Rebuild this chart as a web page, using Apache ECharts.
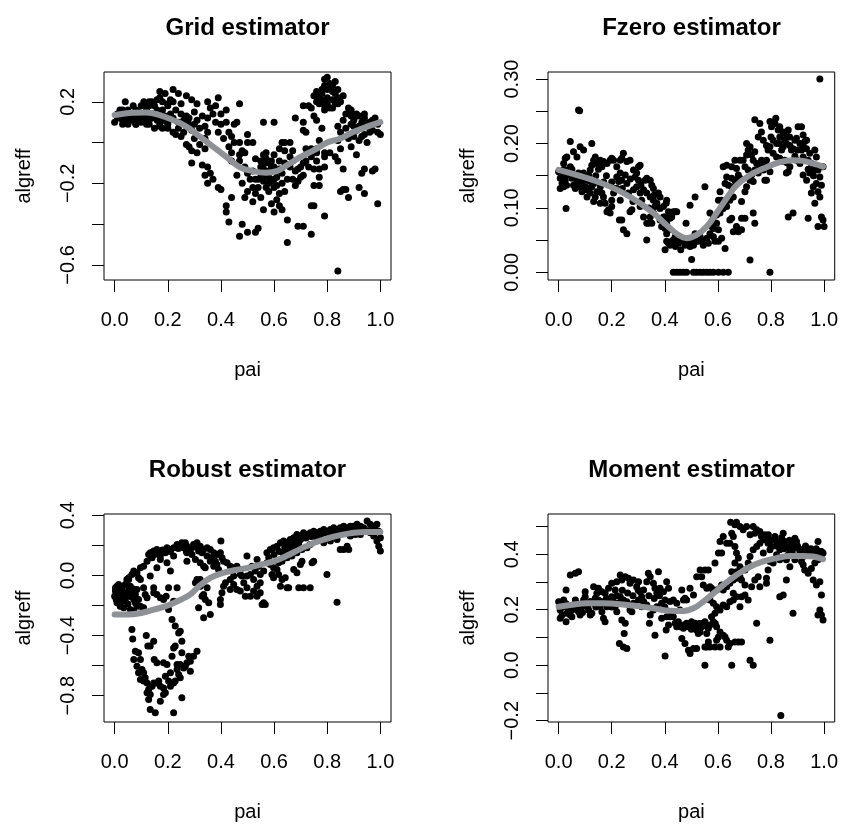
<!DOCTYPE html>
<html><head><meta charset="utf-8">
<script src="https://cdn.jsdelivr.net/npm/echarts@6/dist/echarts.min.js"></script>
<style>html,body{margin:0;padding:0;background:#fff}#c{width:841px;height:826px}</style>
</head><body><div id="c"></div>
<script>
const titles = ['Grid estimator','Fzero estimator','Robust estimator','Moment estimator'];
const xName = 'pai';
const yName = 'algreff';
const xTicks = [0,0.2,0.4,0.6,0.8,1.0];
const gridYTicks = [-0.6,-0.4,-0.2,0,0.2];
const gridYLabels = [-0.6,-0.2,0.2];
const fzeroYTicks = [0,0.05,0.1,0.15,0.2,0.25,0.3];
const fzeroYLabels = [0,0.1,0.2,0.3];
const robustYTicks = [-0.8,-0.6,-0.4,-0.2,0,0.2,0.4];
const robustYLabels = [-0.8,-0.4,0,0.4];
const momentYTicks = [-0.2,-0.1,0,0.1,0.2,0.3,0.4,0.5];
const momentYLabels = [-0.2,0,0.2,0.4];

const gridPts = [[0.01,0.14],[0.02,0.12],[0.00,0.10],[0.02,0.13],[0.03,0.11],[0.03,0.09],[0.04,0.12],[0.05,0.10],[0.06,0.13],[0.07,0.11],[0.07,0.14],[0.08,0.13],[0.08,0.09],[0.10,0.12],[0.10,0.10],[0.11,0.13],[0.12,0.10],[0.12,0.13],[0.13,0.11],[0.13,0.09],[0.14,0.12],[0.15,0.13],[0.16,0.11],[0.17,0.08],[0.17,0.09],[0.18,0.11],[0.19,0.13],[0.20,0.09],[0.20,0.10],[0.16,0.16],[0.15,0.18],[0.13,0.18],[0.12,0.16],[0.11,0.18],[0.10,0.18],[0.08,0.16],[0.07,0.18],[0.04,0.20],[0.05,0.16],[0.03,0.16],[0.02,0.16],[0.18,0.16],[0.20,0.19],[0.21,0.21],[0.18,0.20],[0.17,0.22],[0.20,0.07],[0.18,0.07],[0.15,0.07],[0.12,0.09],[0.08,0.09],[0.05,0.09],
[0.01,0.12],[0.03,0.14],[0.05,0.13],[0.06,0.11],[0.09,0.12],[0.11,0.11],[0.14,0.14],[0.16,0.14],[0.19,0.11],[0.09,0.15],
[0.17,0.25],[0.19,0.24],[0.22,0.26],[0.24,0.24],[0.27,0.23],[0.16,0.21],[0.13,0.20],[0.14,0.20],[0.11,0.20],[0.22,0.20],[0.25,0.19],[0.20,0.18],[0.21,0.14],[0.23,0.16],[0.25,0.14],[0.27,0.13],[0.22,0.05],[0.23,0.04],[0.25,0.03],[0.27,0.08],[0.28,0.09],[0.29,0.06],[0.30,0.09],[0.28,-0.02],[0.29,-0.04],[0.31,-0.05],[0.29,-0.10],[0.27,-0.01],[0.33,-0.11],[0.34,-0.16],[0.35,-0.12],[0.36,-0.15],[0.34,0.02],[0.35,0.05],[0.34,0.08],[0.35,0.12],[0.35,0.20],[0.36,0.17],[0.37,0.14],[0.34,-0.03],[0.35,-0.20],[0.37,-0.18],[0.39,-0.22],[0.40,-0.23],[0.39,0.22],[0.40,0.14],[0.40,0.09],[0.42,0.16],[0.42,0.10],[0.43,0.05],[0.44,0.03],[0.43,-0.02],[0.44,-0.09],[0.44,-0.05],[0.44,-0.27],[0.42,-0.31],[0.42,-0.34],[0.43,-0.39],[0.45,0.09],[0.46,0.10],[0.45,0.00],[0.47,0.00],[0.47,0.19],[0.48,-0.04],[0.47,-0.06],[0.49,-0.05],[0.50,0.04],[0.50,0.00],[0.52,0.00],[0.47,-0.09],[0.49,-0.12],[0.50,-0.15],[0.46,-0.16],[0.48,-0.20],[0.49,-0.27],[0.51,-0.18],[0.52,-0.22],[0.52,-0.14],[0.48,-0.40],[0.50,-0.44],[0.47,-0.46],[0.53,-0.44],[0.54,-0.42],[0.52,-0.29],[0.53,-0.25],[0.50,-0.24],
[0.22,0.12],[0.24,0.10],[0.26,0.11],[0.28,0.12],[0.30,0.15],[0.31,0.11],[0.32,0.07],[0.33,0.13],[0.24,0.07],[0.26,0.05],[0.30,0.02],[0.32,-0.01],[0.38,0.10],[0.39,0.05],[0.41,0.02],[0.38,0.18],[0.31,0.19],[0.29,0.21],
[0.56,0.10],[0.60,0.10],[0.55,-0.09],[0.57,-0.10],[0.57,-0.08],[0.56,-0.13],[0.58,-0.14],[0.59,-0.09],[0.60,-0.12],[0.55,-0.17],[0.54,-0.18],[0.56,-0.19],[0.59,-0.19],[0.60,-0.18],[0.61,-0.17],[0.54,-0.22],[0.55,-0.27],[0.57,-0.22],[0.60,-0.22],[0.59,-0.30],[0.56,-0.33],[0.60,-0.34],[0.62,-0.31],[0.63,-0.33],[0.61,-0.28],[0.64,-0.24],[0.65,-0.18],[0.63,-0.15],[0.62,-0.13],[0.62,-0.09],[0.64,-0.10],[0.63,0.00],[0.64,0.00],[0.66,0.00],[0.67,-0.04],[0.62,-0.03],[0.64,-0.04],[0.66,-0.07],[0.67,-0.09],[0.65,-0.38],[0.65,-0.49],
[0.53,-0.08],[0.55,-0.12],[0.58,-0.17],[0.57,-0.05],[0.61,-0.21],[0.58,-0.24],[0.53,-0.18],[0.68,-0.14],[0.70,-0.17],[0.73,-0.12],[0.66,-0.12],[0.60,-0.06],[0.62,-0.25],[0.56,-0.06],[0.58,-0.20],[0.61,-0.14],[0.63,-0.20],[0.57,-0.16],[0.59,-0.12],
[0.68,0.12],[0.71,0.10],[0.71,0.18],[0.73,0.18],[0.74,0.17],[0.72,0.05],[0.71,0.06],[0.72,-0.03],[0.69,-0.13],[0.70,-0.12],[0.71,-0.16],[0.67,-0.18],[0.68,-0.21],[0.69,-0.19],[0.71,-0.10],[0.72,-0.09],[0.74,-0.07],[0.76,-0.09],[0.74,-0.03],[0.76,-0.05],[0.76,-0.03],[0.77,0.01],[0.75,-0.13],[0.77,-0.13],[0.77,-0.17],[0.79,-0.12],[0.79,-0.07],[0.79,-0.05],[0.69,-0.41],[0.71,-0.41],[0.74,-0.45],[0.74,-0.31],[0.75,-0.31],[0.75,-0.21],[0.77,-0.21],[0.79,-0.36],
[0.75,0.23],[0.76,0.25],[0.77,0.24],[0.77,0.22],[0.78,0.21],[0.79,0.28],[0.81,0.29],[0.81,0.27],[0.82,0.28],[0.82,0.25],[0.79,0.31],[0.80,0.32],[0.83,0.24],[0.84,0.26],[0.84,0.19],[0.86,0.23],[0.77,0.19],[0.81,0.17],[0.82,0.17],[0.79,0.16],[0.79,0.18],[0.78,0.07],[0.76,0.11],[0.75,0.13],[0.84,0.08],[0.85,0.05],[0.84,0.01],[0.85,-0.03],[0.84,-0.09],[0.86,-0.13],[0.86,-0.23],[0.87,-0.23],[0.88,-0.27],[0.85,-0.24],[0.84,-0.63],[0.81,-0.05],[0.83,-0.07],[0.83,0.19],[0.80,0.22],[0.78,0.26],[0.83,0.30],[0.78,0.24],[0.80,0.26],[0.82,0.21],[0.85,0.20],[0.80,0.19],[0.76,0.20],[0.84,0.22],
[0.88,0.17],[0.89,0.16],[0.91,0.14],[0.89,0.13],[0.90,0.11],[0.91,0.13],[0.92,0.13],[0.94,0.12],[0.94,0.14],[0.95,0.09],[0.96,0.10],[0.97,0.11],[0.99,0.09],[0.99,0.05],[1.00,0.04],[0.97,0.06],[0.96,0.05],[0.92,0.08],[0.91,0.06],[0.89,0.09],[0.90,0.03],[0.92,0.01],[0.93,0.03],[0.95,0.00],[0.89,-0.02],[0.91,-0.06],[0.93,-0.15],[0.94,-0.13],[0.97,-0.14],[0.98,-0.13],[0.99,-0.30],[0.92,-0.22],[0.94,-0.25],[0.88,0.02],
[0.86,0.11],[0.87,0.14],[0.90,0.08],[0.93,0.10],[0.96,0.07],[0.98,0.12],[0.87,0.07],[0.94,0.04]];

const fzeroPts = [[0.000,0.156],[0.006,0.146],[0.013,0.138],[0.019,0.133],[0.006,0.130],[0.025,0.143],[0.031,0.151],[0.038,0.159],[0.019,0.169],[0.025,0.177],[0.031,0.179],[0.044,0.164],[0.050,0.146],[0.056,0.135],[0.063,0.130],[0.069,0.141],[0.075,0.154],[0.044,0.203],[0.075,0.252],[0.079,0.251],[0.056,0.187],[0.069,0.179],[0.081,0.195],[0.094,0.190],[0.125,0.200],[0.028,0.099],[0.088,0.125],[0.100,0.133],[0.107,0.143],[0.113,0.151],[0.119,0.159],[0.125,0.166],[0.132,0.174],[0.138,0.179],[0.144,0.169],[0.157,0.174],[0.163,0.164],[0.169,0.172],[0.182,0.169],[0.194,0.174],[0.200,0.177],[0.207,0.174],[0.219,0.164],[0.232,0.174],[0.244,0.185],[0.238,0.177],[0.257,0.172],[0.269,0.174],[0.282,0.159],[0.301,0.164],[0.307,0.166],
[0.01,0.150],[0.02,0.160],[0.03,0.135],[0.05,0.16],[0.06,0.15],[0.09,0.14],[0.10,0.15],[0.11,0.13],[0.14,0.15],[0.15,0.16],[0.17,0.14],[0.18,0.15],[0.20,0.14],[0.22,0.13],[0.24,0.13],[0.27,0.145],[0.28,0.11],[0.31,0.135],[0.34,0.10],[0.36,0.12],
[0.088,0.146],[0.094,0.154],[0.107,0.128],[0.119,0.123],[0.125,0.133],[0.132,0.138],[0.138,0.117],[0.144,0.125],[0.157,0.133],[0.163,0.123],[0.169,0.117],[0.175,0.107],[0.182,0.094],[0.188,0.097],[0.200,0.112],[0.207,0.123],[0.213,0.130],[0.219,0.148],[0.226,0.141],[0.232,0.154],[0.238,0.143],[0.251,0.151],[0.257,0.138],[0.263,0.123],[0.232,0.112],[0.238,0.081],[0.244,0.066],[0.257,0.060],[0.269,0.094],[0.276,0.097],[0.229,0.081],[0.200,0.102],[0.194,0.092],[0.132,0.110],[0.157,0.107],[0.119,0.141],[0.107,0.117],[0.081,0.133],
[0.282,0.128],[0.294,0.133],[0.301,0.143],[0.307,0.123],[0.313,0.112],[0.320,0.128],[0.326,0.143],[0.332,0.146],[0.345,0.143],[0.351,0.135],[0.357,0.130],[0.332,0.123],[0.345,0.117],[0.357,0.112],[0.363,0.102],[0.370,0.107],[0.376,0.123],[0.382,0.117],[0.294,0.154],[0.288,0.148],[0.307,0.102],[0.320,0.086],[0.332,0.076],[0.338,0.076],[0.345,0.086],[0.357,0.092],[0.351,0.076],[0.332,0.050],[0.382,0.099],[0.395,0.102],[0.401,0.086],[0.405,0.107],[0.407,0.112],
[0.382,0.081],[0.388,0.071],[0.395,0.086],[0.401,0.068],[0.407,0.076],[0.414,0.094],[0.420,0.084],[0.426,0.086],[0.432,0.094],[0.439,0.094],[0.445,0.094],[0.407,0.060],[0.414,0.066],[0.401,0.035],[0.407,0.048],[0.414,0.045],[0.420,0.042],[0.426,0.048],[0.432,0.050],[0.439,0.055],[0.445,0.048],[0.451,0.045],[0.457,0.050],[0.464,0.048],[0.470,0.050],[0.476,0.042],[0.482,0.045],[0.489,0.048],[0.495,0.040],[0.501,0.048],[0.508,0.042],[0.514,0.060],[0.520,0.053],[0.480,0.076],[0.495,0.104],[0.514,0.117],[0.551,0.133],[0.44,0.04],[0.46,0.035],[0.49,0.05],[0.51,0.045],
[0.432,0],[0.445,0],[0.457,0],[0.470,0],[0.482,0],[0.508,0],[0.520,0],[0.533,0],[0.545,0],[0.558,0],[0.570,0],[0.583,0],[0.602,0],[0.620,0],[0.639,0],[0.796,0],[0.501,0.020],
[0.526,0.048],[0.533,0.055],[0.539,0.050],[0.545,0.042],[0.558,0.053],[0.564,0.045],[0.570,0.060],[0.576,0.071],[0.583,0.055],[0.589,0.048],[0.570,0.092],[0.583,0.086],[0.595,0.089],[0.608,0.092],[0.583,0.068],[0.602,0.066],[0.614,0.053],[0.627,0.037],[0.602,0.048],[0.595,0.076],
[0.602,0.112],[0.608,0.125],[0.614,0.112],[0.620,0.099],[0.627,0.107],[0.633,0.102],[0.639,0.115],[0.645,0.112],[0.658,0.117],[0.627,0.138],[0.633,0.148],[0.639,0.135],[0.652,0.133],[0.652,0.146],[0.664,0.143],[0.670,0.138],[0.677,0.151],[0.683,0.146],[0.620,0.164],[0.633,0.166],[0.652,0.164],[0.670,0.161],[0.683,0.174],[0.664,0.174],[0.645,0.081],[0.652,0.084],[0.658,0.063],[0.670,0.071],[0.677,0.063],[0.689,0.066],[0.689,0.084],[0.702,0.084],[0.689,0.110],[0.702,0.125],[0.708,0.133],[0.721,0.143],[0.733,0.141],[0.727,0.151],[0.739,0.159],[0.714,0.159],[0.702,0.164],[0.695,0.174],[0.708,0.182],[0.714,0.190],[0.708,0.200],[0.721,0.195],[0.727,0.182],[0.733,0.174],[0.746,0.169],[0.739,0.187],[0.758,0.164],[0.764,0.174],[0.771,0.159],[0.777,0.169],[0.783,0.174],[0.789,0.164],[0.796,0.156],[0.777,0.143],[0.752,0.154],[0.733,0.092],[0.739,0.076],[0.721,0.019],[0.783,0.143],
[0.739,0.237],[0.758,0.231],[0.752,0.210],[0.764,0.218],[0.771,0.205],[0.783,0.197],[0.789,0.190],[0.796,0.234],[0.802,0.226],[0.815,0.231],[0.818,0.239],[0.827,0.221],[0.833,0.210],[0.821,0.200],[0.808,0.205],[0.796,0.195],[0.808,0.185],[0.821,0.179],[0.833,0.177],[0.840,0.190],[0.846,0.195],[0.858,0.200],[0.852,0.205],[0.858,0.213],[0.865,0.221],[0.833,0.226],[0.846,0.218],[0.871,0.197],[0.877,0.190],[0.883,0.192],[0.890,0.205],[0.896,0.208],[0.902,0.226],[0.915,0.226],[0.921,0.213],[0.909,0.200],[0.921,0.195],[0.934,0.192],[0.946,0.185],[0.934,0.205],[0.927,0.203],[0.915,0.190],[0.896,0.174],[0.909,0.169],[0.921,0.179],[0.940,0.174],[0.952,0.169],[0.959,0.159],[0.946,0.154],[0.934,0.143],[0.921,0.151],[0.965,0.190],[0.971,0.179],[0.977,0.159],[0.984,0.148],[0.971,0.138],[0.959,0.133],[0.977,0.125],[0.984,0.117],[0.965,0.107],[0.952,0.123],[0.990,0.135],[0.996,0.164],[0.871,0.164],[0.865,0.156],[0.858,0.154],[0.840,0.172],[0.852,0.174],[0.865,0.086],[0.883,0.092],[0.940,0.084],[0.977,0.071],[0.990,0.086],[0.996,0.081],[1.000,0.071],[0.984,0.300],[0.86,0.17],[0.89,0.18],[0.94,0.16],[0.96,0.15],[0.80,0.21],[0.83,0.20],[0.87,0.21],[0.90,0.19]];

const robustPts = [[0.000,-0.138],[0.003,-0.104],[0.009,-0.071],[0.015,-0.093],[0.006,-0.160],[0.021,-0.126],[0.028,-0.149],[0.009,-0.182],[0.021,-0.204],[0.034,-0.215],[0.040,-0.160],[0.046,-0.126],[0.053,-0.093],[0.040,-0.060],[0.053,-0.027],[0.059,-0.071],[0.065,-0.104],[0.072,-0.160],[0.078,-0.182],[0.084,-0.204],[0.059,-0.226],[0.072,-0.237],[0.003,-0.082],[0.015,-0.060],[0.028,-0.082],[0.034,-0.115],[0.078,-0.126],[0.084,-0.093],[0.090,-0.160],[0.097,-0.204],[0.01,-0.12],[0.02,-0.10],[0.03,-0.17],[0.05,-0.19],[0.06,-0.14],[0.07,-0.09],
[0.046,-0.027],[0.053,-0.016],[0.065,0.007],[0.072,0.029],[0.084,0.018],[0.090,-0.016],[0.097,0.051],[0.109,0.062],[0.122,0.095],[0.128,0.140],[0.134,0.151],[0.141,0.118],[0.147,0.162],[0.159,0.173],[0.166,0.151],[0.172,0.129],[0.184,0.162],[0.191,0.151],[0.197,0.184],[0.210,0.173],[0.222,0.184],[0.235,0.206],[0.247,0.195],[0.253,0.217],[0.260,0.184],[0.266,0.217],[0.272,0.195],[0.285,0.173],[0.291,0.140],[0.297,0.206],[0.310,0.217],[0.322,0.195],[0.335,0.173],[0.348,0.184],[0.360,0.173],[0.373,0.151],[0.385,0.140],[0.398,0.151],[0.404,0.118],[0.410,0.095],[0.423,0.084],[0.435,0.062],[0.448,0.051],[0.460,0.062],[0.473,0.040],[0.479,-0.004],[0.329,0.151],[0.348,0.129],[0.360,0.095],[0.373,0.062],[0.385,0.073],[0.391,0.040],[0.335,0.062],[0.366,0.118],[0.379,0.095],[0.272,0.095],[0.304,0.107],[0.322,0.084],[0.341,0.051],[0.272,0.151],[0.222,0.129],[0.197,0.084],[0.210,0.029],[0.159,0.051],[0.134,-0.004],[0.147,-0.082],[0.109,-0.082],[0.115,-0.126],[0.122,-0.149],[0.147,-0.115],[0.159,-0.126],[0.172,-0.149],[0.184,-0.160],[0.109,-0.215],[0.097,-0.027],[0.316,0.162],[0.400,0.229],[0.172,0.107],[0.15,0.14],[0.18,0.17],[0.21,0.16],[0.24,0.18],[0.27,0.16],[0.30,0.19],[0.33,0.17],
[0.322,-0.027],[0.310,-0.027],[0.304,-0.049],[0.322,-0.071],[0.348,-0.082],[0.335,-0.126],[0.329,-0.138],[0.341,-0.160],[0.354,-0.182],[0.316,-0.215],[0.335,-0.282],[0.360,-0.260],[0.398,-0.160],[0.404,-0.115],[0.398,-0.193],[0.410,-0.071],[0.417,-0.049],[0.435,-0.093],[0.448,-0.060],[0.460,-0.093],[0.473,-0.104],[0.486,-0.049],[0.498,-0.004],[0.511,0.007],[0.523,-0.027],[0.536,-0.071],[0.548,-0.049],[0.498,0.129],[0.517,0.062],[0.529,0.029],[0.548,0.007],[0.561,0.029],[0.448,-0.004],[0.435,-0.027],[0.473,0.007],[0.498,-0.082],[0.492,-0.138],[0.511,-0.138],[0.523,-0.104],[0.536,-0.138],[0.561,-0.182],[0.567,-0.193],[0.555,-0.193],[0.548,-0.115],[0.536,0.107],[0.542,0.062],[0.573,0.084],[0.586,0.073],[0.598,0.051],[0.611,0.040],[0.573,0.151],[0.586,0.173],[0.598,0.184],[0.611,0.195],[0.624,0.217],[0.636,0.229],[0.642,0.173],[0.649,0.217],[0.661,0.240],[0.674,0.251],[0.686,0.273],[0.699,0.262],[0.711,0.284],[0.724,0.273],[0.736,0.284],[0.749,0.295],[0.762,0.284],[0.774,0.295],[0.787,0.306],[0.799,0.295],[0.812,0.306],[0.824,0.317],[0.837,0.306],[0.849,0.317],[0.862,0.328],[0.875,0.317],[0.887,0.328],[0.900,0.328],[0.912,0.340],[0.925,0.328],[0.937,0.317],[0.950,0.362],[0.962,0.340],[0.975,0.328],[0.987,0.340],[0.994,0.295],[1.000,0.251],[0.987,0.229],[0.994,0.195],[1.000,0.162],[0.975,0.262],[0.962,0.284],[0.950,0.295],[0.925,0.273],[0.906,0.273],[0.887,0.262],[0.875,0.195],[0.862,0.173],[0.849,0.173],[0.881,0.173],[0.837,0.240],[0.812,0.229],[0.787,0.217],[0.762,0.240],[0.736,0.206],[0.724,0.184],[0.705,0.173],[0.686,0.151],[0.667,0.129],[0.649,0.118],[0.630,0.095],[0.617,0.084],[0.674,0.195],[0.661,0.173],[0.693,0.206],[0.636,0.140],[0.592,0.007],[0.598,-0.016],[0.617,0.007],[0.630,-0.027],[0.642,-0.016],[0.624,-0.071],[0.649,-0.082],[0.674,0.040],[0.686,0.018],[0.699,0.073],[0.705,0.095],[0.743,0.084],[0.749,0.095],[0.736,-0.082],[0.711,-0.082],[0.693,-0.082],[0.655,-0.082],[0.799,0.007],[0.837,-0.178],[0.774,0.251],[0.812,0.262],
[0.58,0.12],[0.60,0.14],[0.62,0.16],[0.64,0.19],[0.66,0.21],[0.68,0.23],[0.70,0.24],[0.72,0.25],[0.74,0.26],[0.76,0.27],[0.78,0.28],[0.80,0.28],[0.82,0.29],[0.84,0.29],[0.86,0.30],[0.88,0.30],[0.90,0.31],[0.92,0.30],[0.94,0.31],[0.96,0.30],[0.98,0.31],
[0.065,-0.360],[0.068,-0.422],[0.078,-0.504],[0.090,-0.515],[0.097,-0.559],[0.103,-0.626],[0.109,-0.648],[0.115,-0.681],[0.122,-0.715],[0.134,-0.737],[0.122,-0.781],[0.128,-0.759],[0.134,-0.792],[0.128,-0.825],[0.141,-0.737],[0.147,-0.715],[0.159,-0.715],[0.166,-0.703],[0.172,-0.737],[0.184,-0.748],[0.191,-0.781],[0.134,-0.892],[0.153,-0.914],[0.172,-0.837],[0.184,-0.792],[0.222,-0.914],[0.072,-0.559],[0.084,-0.604],[0.090,-0.648],[0.097,-0.692],[0.109,-0.703],[0.119,-0.400],[0.125,-0.470],[0.134,-0.470],[0.147,-0.437],[0.149,-0.559],[0.159,-0.581],[0.184,-0.581],[0.197,-0.592],[0.210,-0.648],[0.216,-0.537],[0.222,-0.482],[0.228,-0.470],[0.241,-0.382],[0.247,-0.371],[0.253,-0.437],[0.253,-0.515],[0.235,-0.592],[0.247,-0.592],[0.260,-0.615],[0.266,-0.604],[0.279,-0.537],[0.285,-0.570],[0.297,-0.537],[0.310,-0.504],[0.285,-0.637],[0.272,-0.581],[0.235,-0.626],[0.241,-0.659],[0.247,-0.681],[0.222,-0.715],[0.228,-0.703],[0.210,-0.737],[0.203,-0.703],[0.191,-0.670],[0.253,-0.814],[0.216,-0.293],[0.228,-0.337],[0.203,-0.226],[0.194,-0.138],[0.222,-0.171],[0.235,-0.082],[0.203,-0.082]];

const momentPts = [[0.000,0.229],[0.006,0.199],[0.006,0.169],[0.013,0.181],[0.019,0.211],[0.019,0.235],[0.025,0.223],[0.028,0.157],[0.031,0.187],[0.038,0.199],[0.044,0.181],[0.050,0.175],[0.056,0.211],[0.063,0.235],[0.069,0.223],[0.075,0.193],[0.081,0.181],[0.088,0.211],[0.094,0.235],[0.100,0.247],[0.107,0.223],[0.113,0.199],[0.119,0.181],[0.125,0.187],[0.132,0.223],[0.138,0.241],[0.144,0.259],[0.150,0.235],[0.157,0.211],[0.163,0.193],[0.169,0.169],[0.175,0.157],[0.182,0.211],[0.188,0.223],[0.194,0.235],[0.200,0.247],[0.207,0.229],[0.213,0.211],[0.219,0.193],[0.226,0.223],[0.232,0.247],[0.044,0.325],[0.063,0.331],[0.075,0.337],[0.028,0.271],[0.100,0.265],[0.132,0.283],[0.150,0.277],[0.163,0.265],[0.175,0.259],[0.188,0.277],[0.200,0.295],[0.213,0.271],[0.219,0.301],[0.232,0.325],[0.238,0.307],[0.251,0.319],[0.263,0.313],[0.269,0.295],[0.282,0.307],[0.294,0.283],[0.301,0.301],[0.307,0.265],[0.313,0.247],[0.320,0.271],[0.332,0.301],[0.338,0.331],[0.345,0.319],[0.357,0.295],[0.363,0.277],[0.376,0.337],[0.370,0.259],[0.382,0.277],[0.395,0.265],[0.407,0.301],[0.414,0.277],[0.401,0.235],[0.388,0.223],[0.370,0.211],[0.357,0.199],[0.345,0.181],[0.332,0.217],[0.313,0.211],[0.301,0.235],[0.282,0.223],[0.269,0.199],[0.257,0.229],[0.244,0.235],[0.238,0.163],[0.251,0.151],[0.247,0.114],[0.229,0.078],[0.244,0.066],[0.257,0.060],[0.276,0.193],[0.342,0.151],[0.363,0.108],[0.401,0.033],[0.405,0.127],[0.414,0.145],[0.420,0.175],[0.426,0.187],[0.432,0.175],[0.407,0.175],[0.388,0.169],[0.432,0.235],[0.445,0.223],[0.457,0.199],[0.470,0.235],[0.464,0.271],[0.476,0.241],[0.482,0.235],
[0.01,0.21],[0.03,0.22],[0.05,0.20],[0.07,0.20],[0.09,0.19],[0.11,0.21],[0.12,0.23],[0.14,0.21],[0.16,0.23],[0.18,0.24],[0.20,0.21],[0.22,0.25],[0.24,0.27],[0.26,0.26],[0.28,0.25],[0.30,0.27],[0.32,0.23],[0.34,0.25],[0.36,0.24],[0.38,0.25],[0.40,0.21],[0.42,0.23],
[0.439,0.151],[0.445,0.139],[0.451,0.157],[0.457,0.139],[0.470,0.133],[0.482,0.151],[0.489,0.139],[0.495,0.145],[0.501,0.157],[0.508,0.139],[0.514,0.151],[0.520,0.127],[0.526,0.145],[0.533,0.120],[0.539,0.139],[0.545,0.151],[0.551,0.157],[0.558,0.114],[0.564,0.133],[0.570,0.145],[0.576,0.175],[0.583,0.157],[0.589,0.187],[0.595,0.139],[0.464,0.096],[0.476,0.078],[0.489,0.054],[0.495,0.042],[0.508,0.060],[0.520,0.060],[0.526,0.114],[0.551,0.066],[0.558,0.066],[0.564,0.084],[0.570,0.066],[0.589,0.066],[0.595,0.090],[0.602,0.102],[0.608,0.120],[0.620,0.108],[0.627,0.102],[0.633,0.090],[0.639,0.066],[0.645,0.078],[0.608,0.066],[0.551,0.000],[0.652,0.000],[0.664,0.084],[0.677,0.084],[0.689,0.084],[0.721,0.018],[0.733,0.000],[0.796,0.090],[0.837,-0.181],[0.47,0.145],[0.50,0.13],[0.53,0.15],[0.56,0.14],[0.59,0.15],
[0.495,0.277],[0.508,0.253],[0.520,0.319],[0.533,0.343],[0.539,0.319],[0.551,0.343],[0.564,0.343],[0.545,0.289],[0.558,0.277],[0.570,0.283],[0.576,0.277],[0.583,0.265],[0.595,0.271],[0.608,0.277],[0.614,0.289],[0.620,0.271],[0.633,0.283],[0.645,0.295],[0.658,0.307],[0.670,0.313],[0.683,0.319],[0.689,0.307],[0.702,0.289],[0.570,0.235],[0.583,0.223],[0.595,0.211],[0.608,0.199],[0.620,0.217],[0.633,0.211],[0.645,0.229],[0.658,0.235],[0.589,0.368],[0.602,0.404],[0.614,0.404],[0.608,0.446],[0.620,0.464],[0.633,0.440],[0.645,0.440],[0.652,0.476],[0.658,0.464],[0.664,0.506],[0.648,0.515],[0.670,0.515],[0.683,0.500],[0.695,0.488],[0.708,0.500],[0.721,0.470],[0.733,0.500],[0.664,0.428],[0.670,0.404],[0.677,0.386],[0.664,0.368],[0.652,0.337],[0.670,0.337],[0.683,0.355],[0.702,0.343],[0.714,0.368],[0.721,0.392],[0.733,0.416],[0.746,0.428],[0.758,0.440],[0.658,0.259],[0.670,0.247],[0.683,0.211],[0.689,0.247],[0.702,0.253],[0.714,0.235],[0.727,0.283],[0.739,0.307],[0.752,0.319],[0.758,0.283],[0.783,0.313],[0.783,0.295],[0.746,0.151],[0.789,0.343],
[0.739,0.476],[0.746,0.488],[0.758,0.482],[0.764,0.464],[0.771,0.452],[0.777,0.470],[0.783,0.458],[0.789,0.440],[0.796,0.416],[0.802,0.428],[0.808,0.452],[0.815,0.464],[0.821,0.446],[0.827,0.434],[0.833,0.416],[0.840,0.440],[0.846,0.476],[0.852,0.446],[0.858,0.428],[0.865,0.398],[0.871,0.416],[0.877,0.434],[0.883,0.428],[0.890,0.458],[0.896,0.446],[0.902,0.422],[0.909,0.404],[0.915,0.416],[0.921,0.392],[0.927,0.410],[0.934,0.416],[0.940,0.404],[0.946,0.416],[0.952,0.398],[0.959,0.410],[0.965,0.404],[0.971,0.416],[0.977,0.446],[0.984,0.410],[0.990,0.398],[0.996,0.404],[0.977,0.380],[0.965,0.368],[0.952,0.349],[0.940,0.331],[0.959,0.307],[0.971,0.289],[0.984,0.301],[0.990,0.253],[0.984,0.199],[0.990,0.181],[0.996,0.163],[0.977,0.181],[0.883,0.187],[0.833,0.247],[0.846,0.253],[0.858,0.307],[0.808,0.368],[0.821,0.398],[0.858,0.380],[0.871,0.355],[0.915,0.374],[0.921,0.362],[0.927,0.343],[0.890,0.380],[0.833,0.380],[0.796,0.374],[0.771,0.404],
[0.80,0.45],[0.82,0.43],[0.85,0.42],[0.87,0.45],[0.90,0.43],[0.93,0.43],[0.95,0.42],[0.97,0.42],[0.99,0.41],[0.79,0.47],[0.84,0.46],[0.88,0.41]];

const gridSmooth = [[0,0.135],[0.07,0.146],[0.12,0.148],[0.17,0.135],[0.22,0.11],[0.27,0.078],[0.32,0.03],[0.37,-0.02],[0.42,-0.07],[0.47,-0.12],[0.52,-0.14],[0.57,-0.148],[0.61,-0.14],[0.65,-0.11],[0.70,-0.07],[0.75,-0.037],[0.80,0.0],[0.85,0.02],[0.90,0.053],[0.95,0.078],[1.0,0.10]];
const fzeroSmooth = [[0,0.159],[0.069,0.151],[0.13,0.143],[0.194,0.133],[0.257,0.12],[0.307,0.107],[0.357,0.092],[0.407,0.073],[0.451,0.058],[0.482,0.053],[0.52,0.058],[0.558,0.071],[0.595,0.092],[0.633,0.115],[0.67,0.135],[0.721,0.151],[0.771,0.161],[0.833,0.171],[0.883,0.174],[0.921,0.173],[0.959,0.169],[0.996,0.164]];
const robustSmooth = [[0,-0.26],[0.05,-0.26],[0.10,-0.25],[0.15,-0.226],[0.20,-0.20],[0.25,-0.16],[0.285,-0.126],[0.32,-0.067],[0.36,-0.016],[0.40,0.013],[0.45,0.035],[0.50,0.05],[0.55,0.073],[0.60,0.095],[0.65,0.133],[0.70,0.177],[0.75,0.217],[0.80,0.246],[0.85,0.268],[0.90,0.284],[0.95,0.29],[1.0,0.29]];
const momentSmooth = [[0,0.211],[0.044,0.217],[0.107,0.223],[0.169,0.223],[0.232,0.22],[0.294,0.213],[0.357,0.205],[0.42,0.196],[0.47,0.195],[0.508,0.205],[0.545,0.229],[0.583,0.259],[0.62,0.289],[0.67,0.325],[0.721,0.355],[0.771,0.374],[0.821,0.386],[0.871,0.394],[0.921,0.394],[0.959,0.392],[0.996,0.382]];

const FF = '"Liberation Sans", Arial, Helvetica, sans-serif';
const GW = 287, GH = 208;
const panels = [
  {pts: gridPts, smooth: gridSmooth, yMin: -0.674, yMax: 0.346, yTicks: gridYTicks, yLabels: gridYLabels, dec: 1, left: 104, top: 72},
  {pts: fzeroPts, smooth: fzeroSmooth, yMin: -0.012, yMax: 0.311, yTicks: fzeroYTicks, yLabels: fzeroYLabels, dec: 2, left: 548, top: 72},
  {pts: robustPts, smooth: robustSmooth, yMin: -0.975, yMax: 0.409, yTicks: robustYTicks, yLabels: robustYLabels, dec: 1, left: 104, top: 514},
  {pts: momentPts, smooth: momentSmooth, yMin: -0.2047, yMax: 0.545, yTicks: momentYTicks, yLabels: momentYLabels, dec: 1, left: 548, top: 514}
];
function fmt(v, d) {
  const s = Math.abs(v).toFixed(d);
  return (v < -1e-9 ? '\u2212' : '') + s;
}
const txt = {fontSize: 20, color: '#000', fontFamily: FF};
const option = {
  animation: false,
  backgroundColor: '#fff',
  title: panels.map((p, i) => ({
    text: titles[i], left: p.left + GW / 2, top: p.top - 56, textAlign: 'center', padding: 0,
    textStyle: {fontSize: 24, fontWeight: 'bold', color: '#000', fontFamily: FF}
  })),
  grid: panels.map(p => ({left: p.left, top: p.top, width: GW, height: GH, show: true, borderColor: '#000', borderWidth: 1, backgroundColor: 'transparent', containLabel: false})),
  xAxis: panels.map((p, i) => ({
    gridIndex: i, type: 'value', min: -0.04, max: 1.04, position: 'bottom',
    axisLine: {show: false, onZero: false}, splitLine: {show: false},
    axisTick: {show: true, length: 12, customValues: xTicks, lineStyle: {color: '#000', width: 1}},
    axisLabel: Object.assign({customValues: xTicks, margin: 30, formatter: v => fmt(v, 1)}, txt),
    name: xName, nameLocation: 'middle', nameGap: 80, nameTextStyle: txt
  })),
  yAxis: panels.map((p, i) => ({
    gridIndex: i, type: 'value', min: p.yMin, max: p.yMax, position: 'left',
    axisLine: {show: false, onZero: false}, splitLine: {show: false},
    axisTick: {show: true, length: 12, customValues: p.yTicks, lineStyle: {color: '#000', width: 1}},
    axisLabel: Object.assign({customValues: p.yLabels, margin: 26, rotate: 90, formatter: v => fmt(v, p.dec)}, txt),
    name: yName, nameLocation: 'middle', nameGap: 70, nameRotate: 90, nameTextStyle: txt
  })),
  series: panels.flatMap((p, i) => [
    {type: 'scatter', xAxisIndex: i, yAxisIndex: i, data: p.pts, symbol: 'circle', symbolSize: 7, itemStyle: {color: '#000', opacity: 1}, z: 2},
    {type: 'line', xAxisIndex: i, yAxisIndex: i, data: p.smooth, smooth: 0.4, showSymbol: false, symbol: 'none', lineStyle: {color: '#8e9196', width: 6, cap: 'round'}, z: 3}
  ])
};
const chart = echarts.init(document.getElementById('c'), null, {renderer: 'canvas'});
chart.setOption(option);
</script>
</body></html>
